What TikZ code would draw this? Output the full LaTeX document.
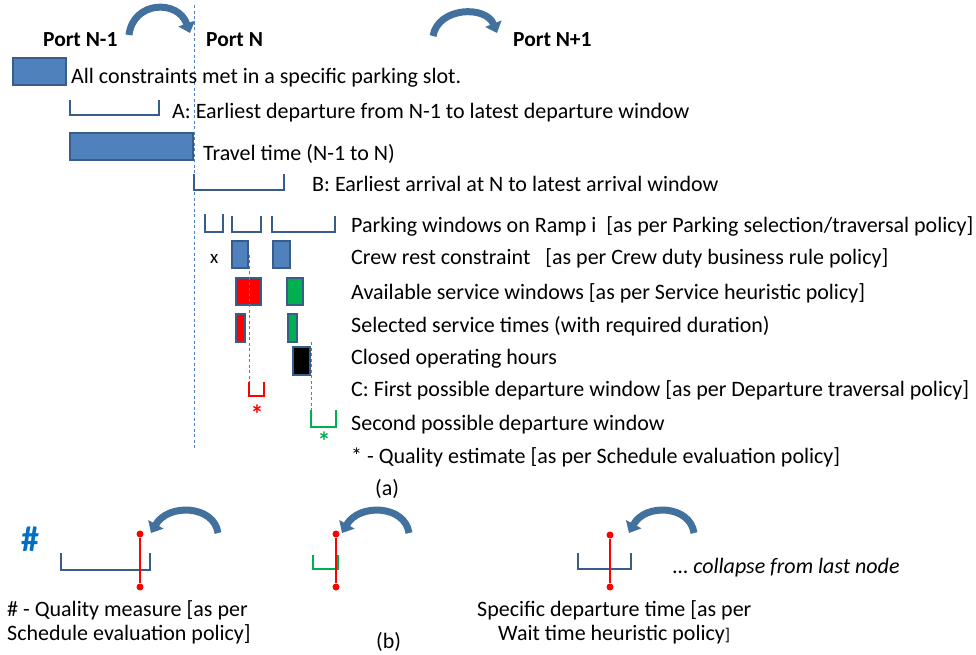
\documentclass[tikz,border=0pt]{standalone}
\usepackage{fontspec}
\setmainfont{Carlito}
\usetikzlibrary{arrows.meta}
\definecolor{boxblue}{HTML}{4F81BD}
\definecolor{edgeblue}{HTML}{385D8A}
\definecolor{arrowblue}{HTML}{41719C}
\definecolor{hashblue}{HTML}{0070C0}
\definecolor{okgreen}{HTML}{00B050}
\definecolor{redc}{HTML}{FF0000}
\begin{document}
\begin{tikzpicture}[x=1pt,y=-1pt,
  lbl/.style={anchor=base west, inner sep=0pt, font=\fontsize{22}{26}\selectfont},
  portlbl/.style={anchor=base west, inner sep=0pt, font=\fontsize{21.5}{26}\selectfont\bfseries},
  bar/.style={draw=edgeblue, line width=2pt, fill=boxblue, inner sep=0pt},
  thickbar/.style={draw=edgeblue, line width=2.6pt, inner sep=0pt},
  brk/.style={draw=edgeblue, line width=2pt},
  dashline/.style={draw=boxblue, line width=1pt, dash pattern=on 3pt off 2.5pt},
  curvarrow/.style={draw=arrowblue, line width=7pt, -{Triangle[length=10pt,width=17pt]}},
  redline/.style={draw=redc, line width=2pt},
  dot/.style={circle, fill=redc, inner sep=0pt, minimum size=7pt},
  star/.style={inner sep=0pt, font=\fontsize{26}{26}\selectfont\bfseries}]
\useasboundingbox (0,0) rectangle (976,654);

% main dashed line
\coordinate (vtop) at (194,5);
\coordinate (vbot) at (194,450);
\draw[dashline] (vtop) -- (vbot);

% ports
\node[portlbl] (p1) at (43,46) {Port N-1};
\node[portlbl] (p2) at (206,46) {Port N};
\node[portlbl] (p3) at (513,46) {Port N+1};

% top arrows
\coordinate (a1s) at (129,35);
\coordinate (a1e) at (190,33);
\draw[curvarrow] (a1s) .. controls (133,1) and (178,-1) .. (a1e);
\coordinate (a2s) at (433,36);
\coordinate (a2e) at (497,33);
\draw[curvarrow] (a2s) .. controls (438,7) and (486,5) .. (a2e);

% rows
\node[bar, minimum width=53pt, minimum height=27pt] (allbox) at (39.5,71.5) {};
\node[lbl] (tall) at (71,83) {All constraints met in a specific parking slot.};

\draw[brk] (70,100) -- (70,115) -- (159,115) -- (159,100);
\node[lbl] (tA) at (172,118) {A: Earliest departure from N-1 to latest departure window};

\node[bar, minimum width=123pt, minimum height=27pt] (travel) at (131.5,146.5) {};
\node[lbl] (tT) at (203,160) {Travel time (N-1 to N)};

\draw[brk] (194,174) -- (194,190) -- (284,190) -- (284,174);
\node[lbl] (tB) at (312,191) {B: Earliest arrival at N to latest arrival window};

% parking windows
\draw[brk] (205,214) -- (205,232) -- (223,232) -- (223,214);
\draw[brk] (232,216) -- (232,232) -- (261,232) -- (261,216);
\draw[brk] (272,216) -- (272,232) -- (335,232) -- (335,216);
\node[lbl] (tP) at (351,232) {Parking windows on Ramp i\ \ [as per Parking selection/traversal policy]};

% crew rest
\node[lbl, font=\fontsize{19}{20}\selectfont] (xmark) at (210,263) {x};
\node[bar, minimum width=16pt, minimum height=27pt] (crew1) at (240,254.5) {};
\node[bar, minimum width=17pt, minimum height=27pt] (crew2) at (281.5,254.5) {};
\node[lbl] (tC) at (351,264) {Crew rest constraint\ \ \ [as per Crew duty business rule policy]};

% available
\node[thickbar, fill=redc, minimum width=25pt, minimum height=27pt] (avR) at (248.5,291.5) {};
\node[thickbar, fill=okgreen, minimum width=16pt, minimum height=27pt] (avG) at (295,291.5) {};
\node[lbl] (tAv) at (351,299) {Available service windows [as per Service heuristic policy]};

% selected
\node[thickbar, fill=redc, minimum width=9pt, minimum height=28pt] (selR) at (240.5,328) {};
\node[thickbar, fill=okgreen, minimum width=9pt, minimum height=28pt] (selG) at (292.5,328) {};
\node[lbl] (tS) at (351,332) {Selected service times (with required duration)};

% closed
\node[thickbar, fill=black, minimum width=17pt, minimum height=28pt] (closed) at (301.5,361) {};
\node[lbl] (tCl) at (351,364) {Closed operating hours};

% departure windows
\coordinate (rbk) at (249,382);
\draw[dashline] (rbk |- crew1.east) -- (rbk);
\draw[draw=redc, line width=2pt] (rbk) -- (249,396) -- (264,396) -- (264,382);
\node[star, text=redc] (rstar) at (257,414) {*};
\node[lbl] (tCd) at (351,396) {C: First possible departure window [as per Departure traversal policy]};

\coordinate (gtop) at (311,342);
\coordinate (gbk) at (311,410);
\draw[dashline] (gtop) -- (gbk);
\draw[draw=okgreen, line width=2pt] (gbk) -- (311,427) -- (336,427) -- (336,410);
\node[star, text=okgreen] (gstar) at (324,441) {*};
\node[lbl] (tSd) at (351,430) {Second possible departure window};

\node[lbl] (tQ) at (351,463) {* - Quality estimate [as per Schedule evaluation policy]};
\node[lbl] (ta) at (375,495) {(a)};

% ---- part (b)
\node[inner sep=0pt, text=hashblue, font=\fontsize{36}{36}\selectfont\bfseries] (hash) at (30,539) {\#};

\draw[brk] (61,553) -- (61,570) -- (150,570) -- (150,553);
\node[dot] (r1t) at (140,534) {};
\node[dot] (r1b) at (140,587) {};
\draw[redline] (r1t) -- (r1b);
\coordinate (b1s) at (218,533);
\coordinate (b1e) at (151,533);
\draw[curvarrow] (b1s) .. controls (214,505) and (168,503) .. (b1e);

\draw[draw=okgreen, line width=2pt] (313,555) -- (313,569) -- (338,569) -- (338,555);
\node[dot] (r2t) at (336,534) {};
\node[dot] (r2b) at (336,587) {};
\draw[redline] (r2t) -- (r2b);
\coordinate (b2s) at (409,533);
\coordinate (b2e) at (342,533);
\draw[curvarrow] (b2s) .. controls (405,505) and (359,503) .. (b2e);

\draw[brk] (578,553) -- (578,569) -- (631,569) -- (631,553);
\node[dot] (r3t) at (610,535) {};
\node[dot] (r3b) at (610,587) {};
\draw[redline] (r3t) -- (r3b);
\coordinate (b3s) at (694,533);
\coordinate (b3e) at (629,533);
\draw[curvarrow] (b3s) .. controls (690,505) and (645,503) .. (b3e);

\node[lbl, font=\fontsize{22}{26}\selectfont\itshape] (coll) at (673,573) {… collapse from last node};

\node[lbl] (q1) at (7,616) {\# - Quality measure [as per};
\node[lbl] (q2) at (7,640) {Schedule evaluation policy]};
\node[lbl] (tb) at (376,648) {(b)};

\node[lbl] (s1) at (477,616) {Specific departure time [as per};
\node[lbl] (s2) at (498,640) {Wait time heuristic policy{\fontsize{17}{20}\selectfont]}};
\end{tikzpicture}
\end{document}
